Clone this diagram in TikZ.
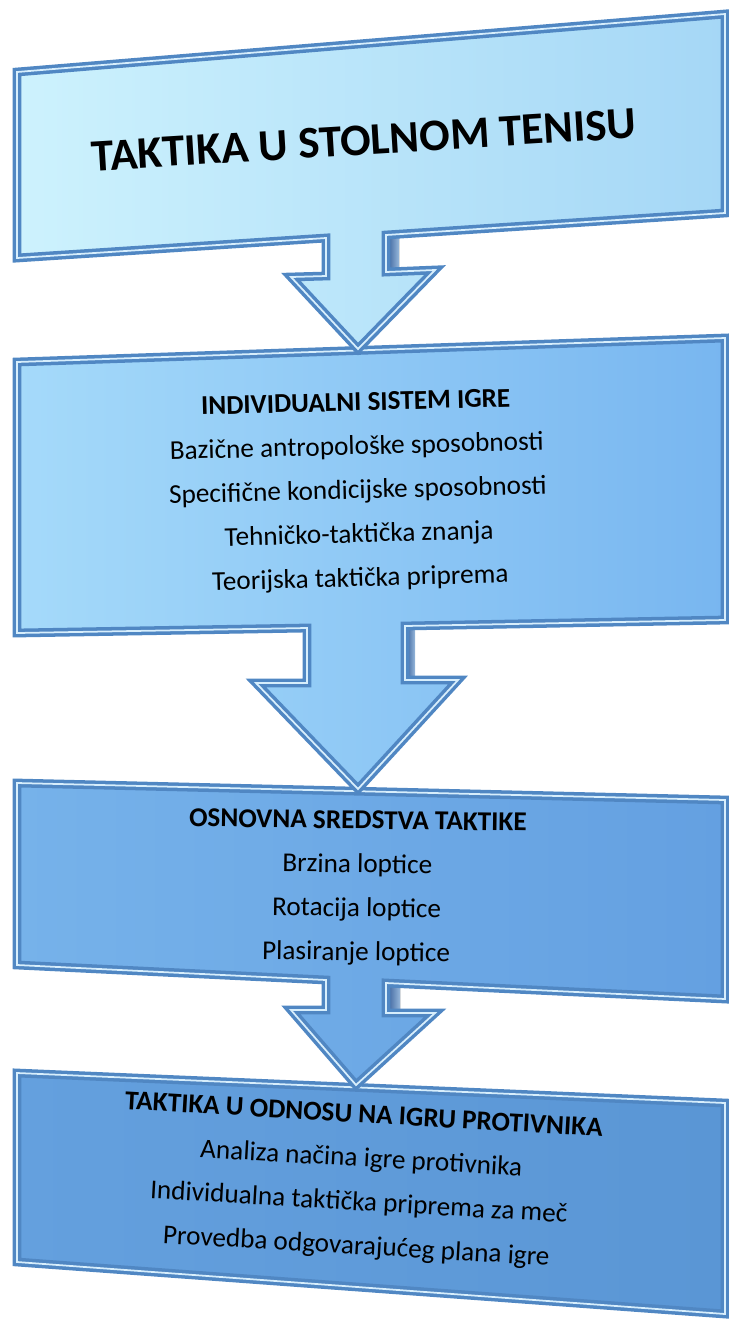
\documentclass[tikz,border=0pt]{standalone}
\usepackage{fontspec}
\setmainfont{Carlito}
\definecolor{rimblue}{RGB}{80,135,195}
\definecolor{rimlight}{RGB}{215,238,252}
\definecolor{rimdark}{RGB}{50,90,150}
\definecolor{boxAl}{RGB}{205,242,253}
\definecolor{boxAr}{RGB}{165,215,246}
\definecolor{boxBl}{RGB}{165,218,250}
\definecolor{boxBr}{RGB}{120,182,240}
\definecolor{boxCl}{RGB}{118,178,234}
\definecolor{boxCr}{RGB}{100,160,225}
\definecolor{boxDl}{RGB}{100,160,222}
\definecolor{boxDr}{RGB}{90,150,213}

\begin{document}
\begin{tikzpicture}[x=0.02cm,y=-0.02cm,
    panel/.style 2 args={left color=#1,right color=#2,draw=rimblue,line width=5pt,line join=miter,
        postaction={draw=rimlight,line width=1pt}},
    side/.style={left color=rimdark,right color=rimblue!60},
    txt/.style={align=center,inner sep=0pt,font=\fontsize{15.5}{25}\selectfont}]

    \useasboundingbox (0,0) rectangle (729,1320);

    \path[panel={boxDl}{boxDr}] (17,1073) -- (725,1103) -- (725,1314) -- (17,1262) -- cycle;

    \fill[side] (386,982) -- (400,983) -- (400,1012) -- (386,1013) -- cycle;
    \path[panel={boxCl}{boxCr}] (17,783) -- (725,800) -- (725,999) -- (386,983) -- (386,1013)
        -- (435,1013) -- (356,1085) -- (291,1010) -- (326,1010) -- (326,980) -- (17,965) -- cycle;

    \fill[side] (405,626) -- (415,626) -- (415,680) -- (405,680) -- cycle;
    \path[panel={boxBl}{boxBr}] (17,362) -- (725,338) -- (725,620) -- (405,626) -- (405,680)
        -- (458,680) -- (358,789) -- (256,683) -- (307,683) -- (307,628) -- (17,633) -- cycle;

    \fill[side] (386,235) -- (399,234) -- (399,271) -- (386,272) -- cycle;
    \path[panel={boxAl}{boxAr}] (17,72) -- (725,14) -- (725,213) -- (386,235) -- (386,272)
        -- (435,270) -- (358,349) -- (291,277) -- (326,276) -- (326,238) -- (17,258) -- cycle;

    \node[txt,rotate=3.5,font=\fontsize{25.7}{30}\selectfont\bfseries] (naslov) at (364,140)
        {TAKTIKA U STOLNOM TENISU};

    \node[txt,rotate=1.5] (sustav) at (358,492)
        {{\bfseries INDIVIDUALNI SISTEM IGRE}\\
         Bazične antropološke sposobnosti\\
         Specifične kondicijske sposobnosti\\
         Tehničko-taktička znanja\\
         Teorijska taktička priprema};

    \node[txt,rotate=-0.8] (sredstva) at (357,888)
        {{\bfseries OSNOVNA SREDSTVA TAKTIKE}\\
         Brzina loptice\\
         Rotacija loptice\\
         Plasiranje loptice};

    \node[txt,rotate=-3.3] (protivnik) at (360,1182)
        {{\bfseries TAKTIKA U ODNOSU NA IGRU PROTIVNIKA}\\
         Analiza načina igre protivnika\\
         Individualna taktička priprema za meč\\
         Provedba odgovarajućeg plana igre};

\end{tikzpicture}
\end{document}
